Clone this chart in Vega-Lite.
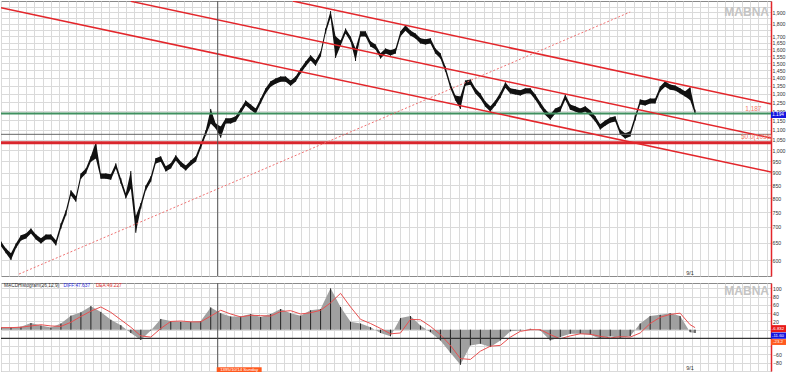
{
"$schema": "https://vega.github.io/schema/vega-lite/v6.json",
"padding": 0,
"background": "white",
"spacing": 5,
"config": {"view": {"stroke": "#8a8a8a"}, "axis": {"labelFont": "Liberation Sans", "labelFontSize": 5.2, "labelColor": "#333", "gridColor": "#dadada", "gridWidth": 1, "title": null}, "text": {"font": "Liberation Sans"}},
"datasets": {
"p": [
{"i":0,"h":654,"l":640},{"i":3,"h":633,"l":619},{"i":6,"h":619,"l":600},{"i":9,"h":648,"l":634},{"i":12,"h":673,"l":657},{"i":15,"h":679,"l":663},{"i":18,"h":695,"l":679},{"i":21,"h":676,"l":660},{"i":24,"h":664,"l":648},{"i":27,"h":676,"l":660},{"i":30,"h":676,"l":660},{"i":33,"h":658,"l":642},{"i":36,"h":712,"l":694},{"i":39,"h":756,"l":738},{"i":42,"h":830,"l":810},{"i":45,"h":807,"l":787},{"i":48,"h":898,"l":876},{"i":51,"h":919,"l":897},{"i":54,"h":972,"l":948},{"i":57,"h":1040,"l":962},{"i":60,"h":898,"l":876},{"i":63,"h":898,"l":876},{"i":66,"h":894,"l":872},{"i":69,"h":941,"l":919},{"i":72,"h":878,"l":856},{"i":75,"h":819,"l":799},{"i":78,"h":908,"l":837},{"i":81,"h":736,"l":681},{"i":84,"h":782,"l":762},{"i":87,"h":849,"l":829},{"i":90,"h":886,"l":864},{"i":93,"h":964,"l":940},{"i":96,"h":972,"l":948},{"i":99,"h":928,"l":906},{"i":102,"h":941,"l":919},{"i":105,"h":977,"l":953},{"i":108,"h":949,"l":927},{"i":111,"h":932,"l":910},{"i":114,"h":954,"l":932},{"i":117,"h":972,"l":948},{"i":120,"h":1032,"l":1008},{"i":123,"h":1097,"l":1071},{"i":126,"h":1212,"l":1132},{"i":129,"h":1133,"l":1107},{"i":132,"h":1117,"l":1060},{"i":135,"h":1160,"l":1132},{"i":138,"h":1160,"l":1132},{"i":141,"h":1171,"l":1143},{"i":144,"h":1215,"l":1185},{"i":147,"h":1261,"l":1231},{"i":150,"h":1238,"l":1208},{"i":153,"h":1215,"l":1185},{"i":156,"h":1273,"l":1243},{"i":159,"h":1334,"l":1302},{"i":162,"h":1378,"l":1344},{"i":165,"h":1397,"l":1363},{"i":168,"h":1410,"l":1376},{"i":171,"h":1410,"l":1376},{"i":174,"h":1384,"l":1350},{"i":177,"h":1410,"l":1376},{"i":180,"h":1463,"l":1429},{"i":183,"h":1512,"l":1476},{"i":186,"h":1556,"l":1518},{"i":189,"h":1520,"l":1482},{"i":192,"h":1584,"l":1546},{"i":195,"h":1763,"l":1721},{"i":198,"h":1911,"l":1853},{"i":201,"h":1700,"l":1537},{"i":204,"h":1667,"l":1627},{"i":207,"h":1763,"l":1721},{"i":210,"h":1698,"l":1658},{"i":213,"h":1606,"l":1515},{"i":216,"h":1739,"l":1697},{"i":219,"h":1739,"l":1697},{"i":222,"h":1660,"l":1620},{"i":225,"h":1636,"l":1598},{"i":228,"h":1570,"l":1532},{"i":231,"h":1606,"l":1568},{"i":234,"h":1592,"l":1554},{"i":237,"h":1606,"l":1568},{"i":240,"h":1739,"l":1697},{"i":243,"h":1789,"l":1745},{"i":246,"h":1747,"l":1705},{"i":249,"h":1722,"l":1682},{"i":252,"h":1684,"l":1644},{"i":255,"h":1676,"l":1636},{"i":258,"h":1684,"l":1644},{"i":261,"h":1606,"l":1568},{"i":264,"h":1570,"l":1532},{"i":267,"h":1477,"l":1441},{"i":270,"h":1365,"l":1333},{"i":273,"h":1290,"l":1260},{"i":276,"h":1284,"l":1212},{"i":279,"h":1384,"l":1350},{"i":282,"h":1390,"l":1356},{"i":285,"h":1334,"l":1302},{"i":288,"h":1303,"l":1271},{"i":291,"h":1255,"l":1225},{"i":294,"h":1227,"l":1197},{"i":297,"h":1261,"l":1231},{"i":300,"h":1309,"l":1277},{"i":303,"h":1372,"l":1338},{"i":306,"h":1334,"l":1302},{"i":309,"h":1328,"l":1296},{"i":312,"h":1322,"l":1290},{"i":315,"h":1334,"l":1302},{"i":318,"h":1334,"l":1302},{"i":321,"h":1297,"l":1265},{"i":324,"h":1250,"l":1220},{"i":327,"h":1209,"l":1179},{"i":330,"h":1182,"l":1152},{"i":333,"h":1215,"l":1185},{"i":336,"h":1227,"l":1197},{"i":339,"h":1297,"l":1265},{"i":342,"h":1238,"l":1208},{"i":345,"h":1227,"l":1197},{"i":348,"h":1215,"l":1185},{"i":351,"h":1227,"l":1197},{"i":354,"h":1204,"l":1174},{"i":357,"h":1171,"l":1143},{"i":360,"h":1129,"l":1101},{"i":363,"h":1149,"l":1121},{"i":366,"h":1165,"l":1137},{"i":369,"h":1171,"l":1143},{"i":372,"h":1102,"l":1076},{"i":375,"h":1082,"l":1056},{"i":378,"h":1092,"l":1066},{"i":381,"h":1176,"l":1148},{"i":384,"h":1267,"l":1237},{"i":387,"h":1261,"l":1231},{"i":390,"h":1273,"l":1243},{"i":393,"h":1273,"l":1243},{"i":396,"h":1346,"l":1314},{"i":399,"h":1378,"l":1344},{"i":402,"h":1358,"l":1326},{"i":405,"h":1352,"l":1320},{"i":408,"h":1334,"l":1302},{"i":411,"h":1316,"l":1284},{"i":414,"h":1340,"l":1263},{"i":417,"h":1208,"l":1182}
],
"m": [
{"i":0,"d":6,"e":5},{"i":6,"d":6,"e":5},{"i":12,"d":7,"e":6},{"i":18,"d":16,"e":9},{"i":24,"d":10,"e":12},{"i":30,"d":5,"e":9},{"i":36,"d":15,"e":8},{"i":42,"d":34,"e":18},{"i":48,"d":42,"e":32},{"i":54,"d":57,"e":45},{"i":60,"d":43,"e":55},{"i":66,"d":24,"e":42},{"i":72,"d":11,"e":24},{"i":78,"d":-8,"e":6},{"i":84,"d":-25,"e":-15},{"i":90,"d":-2,"e":-18},{"i":96,"d":26,"e":3},{"i":102,"d":21,"e":20},{"i":108,"d":19,"e":21},{"i":114,"d":19,"e":19},{"i":120,"d":21,"e":19},{"i":126,"d":54,"e":33},{"i":132,"d":40,"e":47},{"i":138,"d":32,"e":38},{"i":144,"d":32,"e":31},{"i":150,"d":38,"e":35},{"i":156,"d":31,"e":34},{"i":162,"d":38,"e":33},{"i":168,"d":50,"e":44},{"i":174,"d":40,"e":46},{"i":180,"d":34,"e":38},{"i":186,"d":47,"e":41},{"i":192,"d":50,"e":47},{"i":198,"d":100,"e":65},{"i":204,"d":55,"e":88},{"i":210,"d":19,"e":55},{"i":216,"d":15,"e":25},{"i":222,"d":6,"e":15},{"i":228,"d":-8,"e":3},{"i":234,"d":-16,"e":-10},{"i":240,"d":28,"e":-8},{"i":246,"d":33,"e":25},{"i":252,"d":10,"e":24},{"i":258,"d":-6,"e":8},{"i":264,"d":-26,"e":-12},{"i":270,"d":-56,"e":-38},{"i":276,"d":-85,"e":-70},{"i":282,"d":-38,"e":-72},{"i":288,"d":-34,"e":-52},{"i":294,"d":-42,"e":-40},{"i":300,"d":-26,"e":-38},{"i":306,"d":-4,"e":-18},{"i":312,"d":-2,"e":-4},{"i":318,"d":2,"e":0},{"i":324,"d":-2,"e":0},{"i":330,"d":-26,"e":-12},{"i":336,"d":-18,"e":-22},{"i":342,"d":-10,"e":-15},{"i":348,"d":-10,"e":-10},{"i":354,"d":-12,"e":-11},{"i":360,"d":-22,"e":-16},{"i":366,"d":-16,"e":-20},{"i":372,"d":-20,"e":-17},{"i":378,"d":-16,"e":-18},{"i":384,"d":15,"e":-8},{"i":390,"d":33,"e":15},{"i":396,"d":36,"e":30},{"i":402,"d":40,"e":37},{"i":408,"d":33,"e":40},{"i":414,"d":-6,"e":12},{"i":417,"d":-8,"e":5}
],
"ch": [
{"k":"A","i":175.2,"v":2003},{"k":"A","i":462.6,"v":1240},
{"k":"B","i":78,"v":2000},{"k":"B","i":462.6,"v":1059},
{"k":"C","i":0,"v":1941},{"k":"C","i":462.6,"v":904}
],
"dot": [{"i":10.8,"v":562},{"i":378,"v":1903}]
},
"vconcat": [
{
"width": 770, "height": 275,
"resolve": {"axis": {"x": "independent", "y": "independent"}},
"layer": [
{"data": {"name": "p"}, "mark": {"type": "area", "color": "#111", "opacity": 1, "clip": true},
 "encoding": {
  "x": {"field": "i", "type": "quantitative", "scale": {"domain": [0, 462.6], "nice": false, "zero": false}, "axis": {"orient": "bottom", "tickCount": 92, "labels": false, "ticks": false, "domain": false, "grid": true}},
  "y": {"field": "h", "type": "quantitative", "scale": {"type": "log", "domain": [557, 2003], "nice": false}, "axis": {"orient": "right", "ticks": false, "labelPadding": 1, "domainColor": "#e3262b", "domainWidth": 1.5, "grid": true, "values": [600,650,700,750,800,850,900,950,1000,1050,1100,1150,1200,1250,1300,1350,1400,1450,1500,1550,1600,1650,1700,1750,1800,1850,1900,1950], "labelExpr": "(datum.value == 1750 || datum.value == 1850 || datum.value == 1950) ? '' : format(datum.value, ',')"}},
  "y2": {"field": "l"}
 }},
{"data": {"name": "p"}, "mark": {"type": "rule", "color": "#111", "strokeWidth": 1, "clip": true},
 "encoding": {
  "x": {"field": "i", "type": "quantitative", "scale": {"domain": [0, 462.6], "nice": false, "zero": false}, "axis": null},
  "y": {"field": "h", "type": "quantitative", "scale": {"type": "log", "domain": [557, 2003], "nice": false}, "axis": null},
  "y2": {"field": "l"}
 }},
{"data": {"values": [{"v": 1187}]}, "mark": {"type": "rule", "color": "#3f8f5f", "strokeWidth": 2, "clip": true},
 "encoding": {"y": {"field": "v", "type": "quantitative", "scale": {"type": "log", "domain": [557, 2003], "nice": false}, "axis": null}}},
{"data": {"values": [{"v": 1077}]}, "mark": {"type": "rule", "color": "#666", "strokeWidth": 1, "clip": true},
 "encoding": {"y": {"field": "v", "type": "quantitative", "scale": {"type": "log", "domain": [557, 2003], "nice": false}, "axis": null}}},
{"data": {"values": [{"v": 1036}]}, "mark": {"type": "rule", "color": "#d9272e", "strokeWidth": 3, "clip": true},
 "encoding": {"y": {"field": "v", "type": "quantitative", "scale": {"type": "log", "domain": [557, 2003], "nice": false}, "axis": null}}},
{"data": {"name": "ch"}, "mark": {"type": "line", "color": "#e3262b", "strokeWidth": 1.5, "clip": true},
 "encoding": {
  "x": {"field": "i", "type": "quantitative", "scale": {"domain": [0, 462.6], "nice": false, "zero": false}, "axis": null},
  "y": {"field": "v", "type": "quantitative", "scale": {"type": "log", "domain": [557, 2003], "nice": false}, "axis": null},
  "detail": {"field": "k"}
 }},
{"data": {"name": "dot"}, "mark": {"type": "line", "color": "#f07070", "strokeWidth": 1, "strokeDash": [2, 2], "clip": true},
 "encoding": {
  "x": {"field": "i", "type": "quantitative", "scale": {"domain": [0, 462.6], "nice": false, "zero": false}, "axis": null},
  "y": {"field": "v", "type": "quantitative", "scale": {"type": "log", "domain": [557, 2003], "nice": false}, "axis": null}
 }},
{"data": {"values": [{"v": 130.2}]}, "mark": {"type": "rule", "color": "#555", "strokeWidth": 1, "clip": true},
 "encoding": {"x": {"field": "v", "type": "quantitative", "scale": {"domain": [0, 462.6], "nice": false, "zero": false}, "axis": null}}},
{"data": {"values": [{"i": 452, "v": 1210, "t": "1,187"}, {"i": 454, "v": 1064, "t": "50.0(1036)"}]}, "mark": {"type": "text", "color": "#f07868", "fontSize": 6.5, "align": "center"},
 "encoding": {"x": {"field": "i", "type": "quantitative", "scale": {"domain": [0, 462.6], "nice": false, "zero": false}, "axis": null}, "y": {"field": "v", "type": "quantitative", "scale": {"type": "log", "domain": [557, 2003], "nice": false}, "axis": null}, "text": {"field": "t"}}},
{"data": {"values": [{"i": 448, "v": 1900, "t": "MABNA"}]}, "mark": {"type": "text", "color": "#c4c4c4", "fontSize": 12, "fontWeight": "bold", "align": "center"},
 "encoding": {"x": {"field": "i", "type": "quantitative", "scale": {"domain": [0, 462.6], "nice": false, "zero": false}, "axis": null}, "y": {"field": "v", "type": "quantitative", "scale": {"type": "log", "domain": [557, 2003], "nice": false}, "axis": null}, "text": {"field": "t"}}},
{"data": {"values": [{"i": 414, "v": 566, "t": "9/1"}]}, "mark": {"type": "text", "color": "#333", "fontSize": 5.5, "align": "center"},
 "encoding": {"x": {"field": "i", "type": "quantitative", "scale": {"domain": [0, 462.6], "nice": false, "zero": false}, "axis": null}, "y": {"field": "v", "type": "quantitative", "scale": {"type": "log", "domain": [557, 2003], "nice": false}, "axis": null}, "text": {"field": "t"}}},
{"data": {"values": [{"a": 462.6, "b": 471.6, "lo": 1162, "hi": 1196}]}, "mark": {"type": "rect", "color": "#1515e0", "clip": false},
 "encoding": {"x": {"field": "a", "type": "quantitative", "scale": {"domain": [0, 462.6], "nice": false, "zero": false}, "axis": null}, "x2": {"field": "b"}, "y": {"field": "hi", "type": "quantitative", "scale": {"type": "log", "domain": [557, 2003], "nice": false}, "axis": null}, "y2": {"field": "lo"}}},
{"data": {"values": [{"i": 466.8, "v": 1179, "t": "1.194"}]}, "mark": {"type": "text", "color": "white", "fontSize": 4.6, "align": "center", "baseline": "middle"},
 "encoding": {"x": {"field": "i", "type": "quantitative", "scale": {"domain": [0, 462.6], "nice": false, "zero": false}, "axis": null}, "y": {"field": "v", "type": "quantitative", "scale": {"type": "log", "domain": [557, 2003], "nice": false}, "axis": null}, "text": {"field": "t"}}}
]
},
{
"width": 770, "height": 88,
"resolve": {"axis": {"x": "independent", "y": "independent"}},
"layer": [
{"data": {"name": "m"}, "mark": {"type": "area", "color": "#a0a0a0", "opacity": 1, "clip": true},
 "encoding": {
  "x": {"field": "i", "type": "quantitative", "scale": {"domain": [0, 462.6], "nice": false, "zero": false}, "axis": {"orient": "bottom", "tickCount": 92, "labels": false, "ticks": false, "domain": false, "grid": true}},
  "y": {"field": "d", "type": "quantitative", "scale": {"domain": [-100, 113], "nice": false, "zero": false}, "axis": {"orient": "right", "ticks": false, "labelPadding": 1.5, "domainColor": "#e3262b", "domainWidth": 1.5, "grid": true, "values": [-100,-80,-60,-40,-20,0,20,40,60,80,100], "labelExpr": "(datum.value == -100 || datum.value == -40 || datum.value == -20 || datum.value == 0) ? '' : format(datum.value, 'd')"}},
  "y2": {"datum": 0}
 }},
{"data": {"name": "m"}, "mark": {"type": "rule", "color": "#222", "strokeWidth": 1, "clip": true},
 "encoding": {
  "x": {"field": "i", "type": "quantitative", "scale": {"domain": [0, 462.6], "nice": false, "zero": false}, "axis": null},
  "y": {"field": "d", "type": "quantitative", "scale": {"domain": [-100, 113], "nice": false, "zero": false}, "axis": null},
  "y2": {"datum": 0}
 }},
{"data": {"name": "m"}, "mark": {"type": "line", "color": "#e85050", "strokeWidth": 1, "clip": true},
 "encoding": {
  "x": {"field": "i", "type": "quantitative", "scale": {"domain": [0, 462.6], "nice": false, "zero": false}, "axis": null},
  "y": {"field": "e", "type": "quantitative", "scale": {"domain": [-100, 113], "nice": false, "zero": false}, "axis": null}
 }},
{"data": {"values": [{"v": -21}]}, "mark": {"type": "rule", "color": "#333", "strokeWidth": 1.2, "clip": true},
 "encoding": {"y": {"field": "v", "type": "quantitative", "scale": {"domain": [-100, 113], "nice": false, "zero": false}, "axis": null}}},
{"data": {"values": [{"v": 130.2}]}, "mark": {"type": "rule", "color": "#555", "strokeWidth": 1, "clip": true},
 "encoding": {"x": {"field": "v", "type": "quantitative", "scale": {"domain": [0, 462.6], "nice": false, "zero": false}, "axis": null}}},
{"data": {"values": [{"i": 1.8, "v": 106, "t": "MACDHistogram(26,12,9)"}]}, "mark": {"type": "text", "fontSize": 4.8, "align": "left", "color": "#333"},
 "encoding": {"x": {"field": "i", "type": "quantitative", "scale": {"domain": [0, 462.6], "nice": false, "zero": false}, "axis": null}, "y": {"field": "v", "type": "quantitative", "scale": {"domain": [-100, 113], "nice": false, "zero": false}, "axis": null}, "text": {"field": "t"}}},
{"data": {"values": [{"i": 37.5, "v": 106, "t": "DIFF:47.637"}]}, "mark": {"type": "text", "fontSize": 4.8, "align": "left", "color": "#3030e0"},
 "encoding": {"x": {"field": "i", "type": "quantitative", "scale": {"domain": [0, 462.6], "nice": false, "zero": false}, "axis": null}, "y": {"field": "v", "type": "quantitative", "scale": {"domain": [-100, 113], "nice": false, "zero": false}, "axis": null}, "text": {"field": "t"}}},
{"data": {"values": [{"i": 57, "v": 106, "t": "DEA:49.227"}]}, "mark": {"type": "text", "fontSize": 4.8, "align": "left", "color": "#e03030"},
 "encoding": {"x": {"field": "i", "type": "quantitative", "scale": {"domain": [0, 462.6], "nice": false, "zero": false}, "axis": null}, "y": {"field": "v", "type": "quantitative", "scale": {"domain": [-100, 113], "nice": false, "zero": false}, "axis": null}, "text": {"field": "t"}}},
{"data": {"values": [{"i": 448, "v": 94, "t": "MABNA"}]}, "mark": {"type": "text", "color": "#c4c4c4", "fontSize": 12, "fontWeight": "bold", "align": "center"},
 "encoding": {"x": {"field": "i", "type": "quantitative", "scale": {"domain": [0, 462.6], "nice": false, "zero": false}, "axis": null}, "y": {"field": "v", "type": "quantitative", "scale": {"domain": [-100, 113], "nice": false, "zero": false}, "axis": null}, "text": {"field": "t"}}},
{"data": {"values": [{"i": 414, "v": -93, "t": "9/1"}]}, "mark": {"type": "text", "color": "#333", "fontSize": 5.5, "align": "center"},
 "encoding": {"x": {"field": "i", "type": "quantitative", "scale": {"domain": [0, 462.6], "nice": false, "zero": false}, "axis": null}, "y": {"field": "v", "type": "quantitative", "scale": {"domain": [-100, 113], "nice": false, "zero": false}, "axis": null}, "text": {"field": "t"}}},
{"data": {"values": [{"a": 129.6, "b": 156.6, "lo": -106, "hi": -91}, {"a": 462.6, "b": 471.6, "lo": -37, "hi": -23}]}, "mark": {"type": "rect", "clip": false, "color": "#ff5a1f"},
 "encoding": {"x": {"field": "a", "type": "quantitative", "scale": {"domain": [0, 462.6], "nice": false, "zero": false}, "axis": null}, "x2": {"field": "b"}, "y": {"field": "hi", "type": "quantitative", "scale": {"domain": [-100, 113], "nice": false, "zero": false}, "axis": null}, "y2": {"field": "lo"}}},
{"data": {"values": [{"a": 462.6, "b": 471.6, "lo": -6, "hi": 11}]}, "mark": {"type": "rect", "clip": false, "color": "#e81818"},
 "encoding": {"x": {"field": "a", "type": "quantitative", "scale": {"domain": [0, 462.6], "nice": false, "zero": false}, "axis": null}, "x2": {"field": "b"}, "y": {"field": "hi", "type": "quantitative", "scale": {"domain": [-100, 113], "nice": false, "zero": false}, "axis": null}, "y2": {"field": "lo"}}},
{"data": {"values": [{"a": 462.6, "b": 471.6, "lo": -22, "hi": -7}]}, "mark": {"type": "rect", "clip": false, "color": "#1515e0"},
 "encoding": {"x": {"field": "a", "type": "quantitative", "scale": {"domain": [0, 462.6], "nice": false, "zero": false}, "axis": null}, "x2": {"field": "b"}, "y": {"field": "hi", "type": "quantitative", "scale": {"domain": [-100, 113], "nice": false, "zero": false}, "axis": null}, "y2": {"field": "lo"}}},
{"data": {"values": [{"i": 143.1, "v": -97, "t": "1395/10/14 Sunday"}, {"i": 466.8, "v": 2.5, "t": "-6.832"}, {"i": 466.8, "v": -14.5, "t": "-11.60"}, {"i": 466.8, "v": -30, "t": "-23.2"}]}, "mark": {"type": "text", "color": "white", "fontSize": 4.4, "align": "center", "baseline": "middle"},
 "encoding": {"x": {"field": "i", "type": "quantitative", "scale": {"domain": [0, 462.6], "nice": false, "zero": false}, "axis": null}, "y": {"field": "v", "type": "quantitative", "scale": {"domain": [-100, 113], "nice": false, "zero": false}, "axis": null}, "text": {"field": "t"}}}
]
}
]
}
